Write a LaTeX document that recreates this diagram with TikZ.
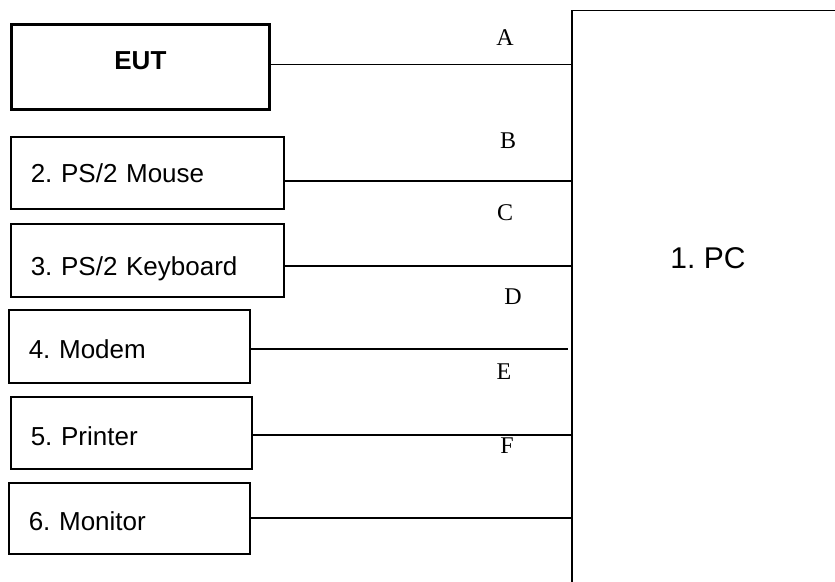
\documentclass[tikz,border=0pt]{standalone}
\usepackage{fontspec}
\setmainfont{Liberation Serif}
\setsansfont{Liberation Sans}
\frenchspacing

\begin{document}
\begin{tikzpicture}[x=1pt,y=-1pt,
	device/.style={draw, line width=1.5pt, anchor=north west, align=left, inner xsep=20pt, text height=25pt, text depth=0pt, font=\sffamily\fontsize{26}{30}\selectfont},
	cable/.style={line width=1.5pt},
	port/.style={anchor=base, font=\rmfamily\fontsize{24}{28}\selectfont}]
	\useasboundingbox (0,0) rectangle (835,581);
	\clip (0,0) rectangle (835,581);
	
	% pc
	\node[draw, line width=1.5pt, anchor=north west, minimum width=320, minimum height=620] (pc) at (571,9.5) {};
	\node[anchor=base, font=\sffamily\fontsize{30}{34}\selectfont] (pcname) at (708,268) {1. PC};
	
	% devices
	\node[draw, line width=2.8pt, anchor=north west, minimum width=258, minimum height=85, text height=19pt, text depth=14pt, font=\sffamily\bfseries\fontsize{26}{30}\selectfont] (eut) at (10,23) {EUT};
	\node[device, minimum width=273, minimum height=72, text width=233, text height=20pt] (mouse) at (10,136) {2. PS/2 Mouse};
	\node[device, minimum width=273, minimum height=73, text width=233, text height=31pt] (keyboard) at (10,223) {3. PS/2 Keyboard};
	\node[device, minimum width=241, minimum height=73, text width=201] (modem) at (8,309) {4. Modem};
	\node[device, minimum width=241, minimum height=72, text width=201] (printer) at (10,396) {5. Printer};
	\node[device, minimum width=241, minimum height=71, text width=201] (monitor) at (8,482) {6. Monitor};
	
	% cables
	\draw[cable] ([yshift=2.5pt]eut.east) coordinate (a) -- (a -| pc.west);
	\draw[cable] ([yshift=-8pt]mouse.east) coordinate (b) -- (b -| pc.west);
	\draw[cable] ([yshift=-5.5pt]keyboard.east) coordinate (c) -- (c -| pc.west);
	\draw[cable, shorten >=3pt] ([yshift=-2.5pt]modem.east) coordinate (d) -- (d -| pc.west);
	\draw[cable] ([yshift=-2pt]printer.east) coordinate (e) -- (e -| pc.west);
	\draw[cable] ([yshift=0.5pt]monitor.east) coordinate (f) -- (f -| pc.west);
	
	% ports
	\node[port] (porta) at (505,45) {A};
	\node[port] (portb) at (508,148) {B};
	\node[port] (portc) at (505,220) {C};
	\node[port] (portd) at (513,304) {D};
	\node[port] (porte) at (504,379) {E};
	\node[port] (portf) at (507,453) {F};
\end{tikzpicture}
\end{document}
